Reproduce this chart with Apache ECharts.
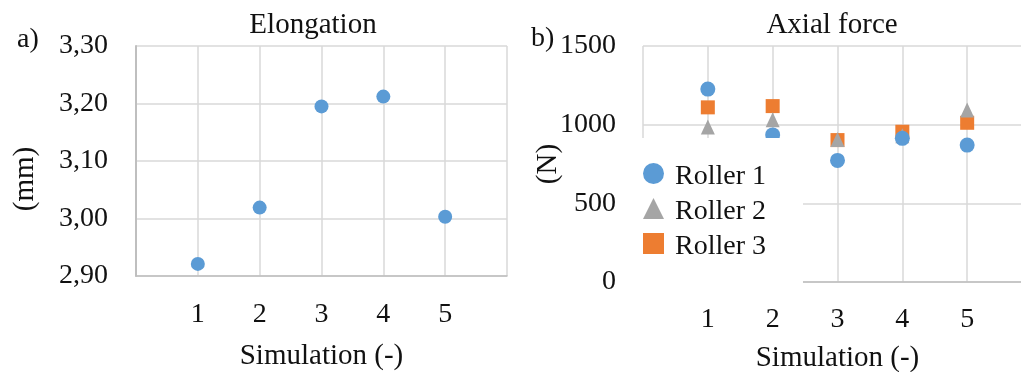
<!DOCTYPE html>
<html>
<head>
<meta charset="utf-8">
<script src="https://cdn.jsdelivr.net/npm/echarts@6/dist/echarts.min.js"></script>
<style>
  html, body { margin: 0; padding: 0; background: #fff; }
  #chart { width: 1021px; height: 372px; }
</style>
</head>
<body>
<div id="chart"></div>
<script>
// Simulation runs and measured results
const simulations = [1, 2, 3, 4, 5];
const elongation = [2.921, 3.019, 3.195, 3.212, 3.003];   // mm
const roller1 = [1226, 935, 773, 913, 870];               // N
const roller2 = [985, 1031, 906, 930, 1093];              // N
const roller3 = [1110, 1118, 902, 955, 1012];             // N
const xTickLabels = ['1', '2', '3', '4', '5'];

const FONT = '"Liberation Serif", "DejaVu Serif", serif';
const TEXT = '#111';
const GRID_LINE = '#d9d9d9';
const AXIS_LINE = '#bfbfbf';
const BLUE = '#5b9bd5', GRAY = '#a5a5a5', ORANGE = '#ed7d31';

const pairs = vals => simulations.map((s, i) => [s, vals[i]]);

function xAxisFor(gridIndex, margin, nameGap) {
  return {
    type: 'value', gridIndex, min: 0, max: 6, interval: 1,
    axisLine: { show: true, lineStyle: { color: AXIS_LINE, width: 1.5 } },
    axisTick: { show: false },
    splitLine: { show: true, lineStyle: { color: GRID_LINE, width: 1.5 } },
    axisLabel: {
      margin, fontFamily: FONT, fontSize: 28, color: TEXT,
      formatter: v => (v >= 1 && v <= xTickLabels.length) ? xTickLabels[v - 1] : ''
    },
    name: 'Simulation (-)', nameLocation: 'middle', nameGap, nameMoveOverlap: false,
    nameTextStyle: { fontFamily: FONT, fontSize: 29, color: TEXT }
  };
}

const chart = echarts.init(document.getElementById('chart'), null, { renderer: 'canvas' });

chart.setOption({
  animation: false,
  backgroundColor: '#fff',
  grid: [
    { left: 136, top: 46, width: 371, height: 230, containLabel: false, outerBoundsMode: 'none' },
    { left: 643, top: 46, width: 389, height: 236, containLabel: false, outerBoundsMode: 'none' }
  ],
  xAxis: [xAxisFor(0, 25, 66), xAxisFor(1, 24, 62)],
  yAxis: [
    {
      type: 'value', gridIndex: 0, min: 2.9, max: 3.3, interval: 0.1,
      axisLine: { show: true, lineStyle: { color: AXIS_LINE, width: 2 } },
      axisTick: { show: false },
      splitLine: { show: true, lineStyle: { color: GRID_LINE, width: 1.5 } },
      axisLabel: {
        margin: 28, fontFamily: FONT, fontSize: 28, color: TEXT,
        formatter: v => v.toFixed(2).replace('.', ',')
      },
      name: '(mm)', nameLocation: 'middle', nameGap: 96, nameRotate: 90, nameMoveOverlap: false,
      nameTextStyle: { fontFamily: FONT, fontSize: 29, color: TEXT, padding: [0, 36, 0, 0] }
    },
    {
      type: 'value', gridIndex: 1, min: 0, max: 1500, interval: 500,
      axisLine: { show: false },
      axisTick: { show: false },
      splitLine: { show: true, lineStyle: { color: GRID_LINE, width: 1.5 } },
      axisLabel: { margin: 27, fontFamily: FONT, fontSize: 28, color: TEXT, formatter: v => String(v) },
      name: '(N)', nameLocation: 'middle', nameGap: 80, nameRotate: 90, nameMoveOverlap: false,
      nameTextStyle: { fontFamily: FONT, fontSize: 29, color: TEXT }
    },
    {
      // axis line of the force chart, kept above the legend box
      type: 'value', gridIndex: 1, min: 0, max: 1500, interval: 500, z: 6,
      axisLine: { show: true, lineStyle: { color: AXIS_LINE, width: 2 } },
      axisTick: { show: false }, splitLine: { show: false }, axisLabel: { show: false }
    }
  ],
  legend: {
    orient: 'vertical', left: 640, top: 138, z: 4,
    data: ['Roller 1', 'Roller 2', 'Roller 3'],
    backgroundColor: '#fff',
    padding: [25, 37, 22, 3],
    itemWidth: 21, itemHeight: 21, itemGap: 7,
    formatter: name => '{t|' + name + '}',
    textStyle: {
      fontFamily: FONT, fontSize: 28, color: TEXT,
      rich: { t: { fontFamily: FONT, fontSize: 28, color: TEXT, height: 28, padding: [7, 0, 0, 6] } }
    }
  },
  graphic: [
    { type: 'text', x: 313, y: 25, style: { text: 'Elongation', fontFamily: FONT, fontSize: 29, fill: TEXT, align: 'center', verticalAlign: 'middle' } },
    { type: 'text', x: 832, y: 25, style: { text: 'Axial force', fontFamily: FONT, fontSize: 29, fill: TEXT, align: 'center', verticalAlign: 'middle' } },
    { type: 'text', x: 17, y: 40, style: { text: 'a)', fontFamily: FONT, fontSize: 28, fill: TEXT, align: 'left', verticalAlign: 'middle' } },
    { type: 'text', x: 531, y: 39, style: { text: 'b)', fontFamily: FONT, fontSize: 28, fill: TEXT, align: 'left', verticalAlign: 'middle' } }
  ],
  series: [
    {
      name: 'Elongation', type: 'scatter', xAxisIndex: 0, yAxisIndex: 0,
      symbol: 'circle', symbolSize: 14, itemStyle: { color: BLUE, opacity: 1 },
      data: pairs(elongation)
    },
    {
      name: 'Roller 3', type: 'scatter', xAxisIndex: 1, yAxisIndex: 1,
      symbol: 'rect', symbolSize: 14, itemStyle: { color: ORANGE, opacity: 1 },
      data: pairs(roller3)
    },
    {
      name: 'Roller 2', type: 'scatter', xAxisIndex: 1, yAxisIndex: 1,
      symbol: 'triangle', symbolSize: [14, 15], itemStyle: { color: GRAY, opacity: 1 },
      data: pairs(roller2)
    },
    {
      name: 'Roller 1', type: 'scatter', xAxisIndex: 1, yAxisIndex: 1,
      symbol: 'circle', symbolSize: 15, itemStyle: { color: BLUE, opacity: 1 },
      data: pairs(roller1)
    }
  ]
});
</script>
</body>
</html>
